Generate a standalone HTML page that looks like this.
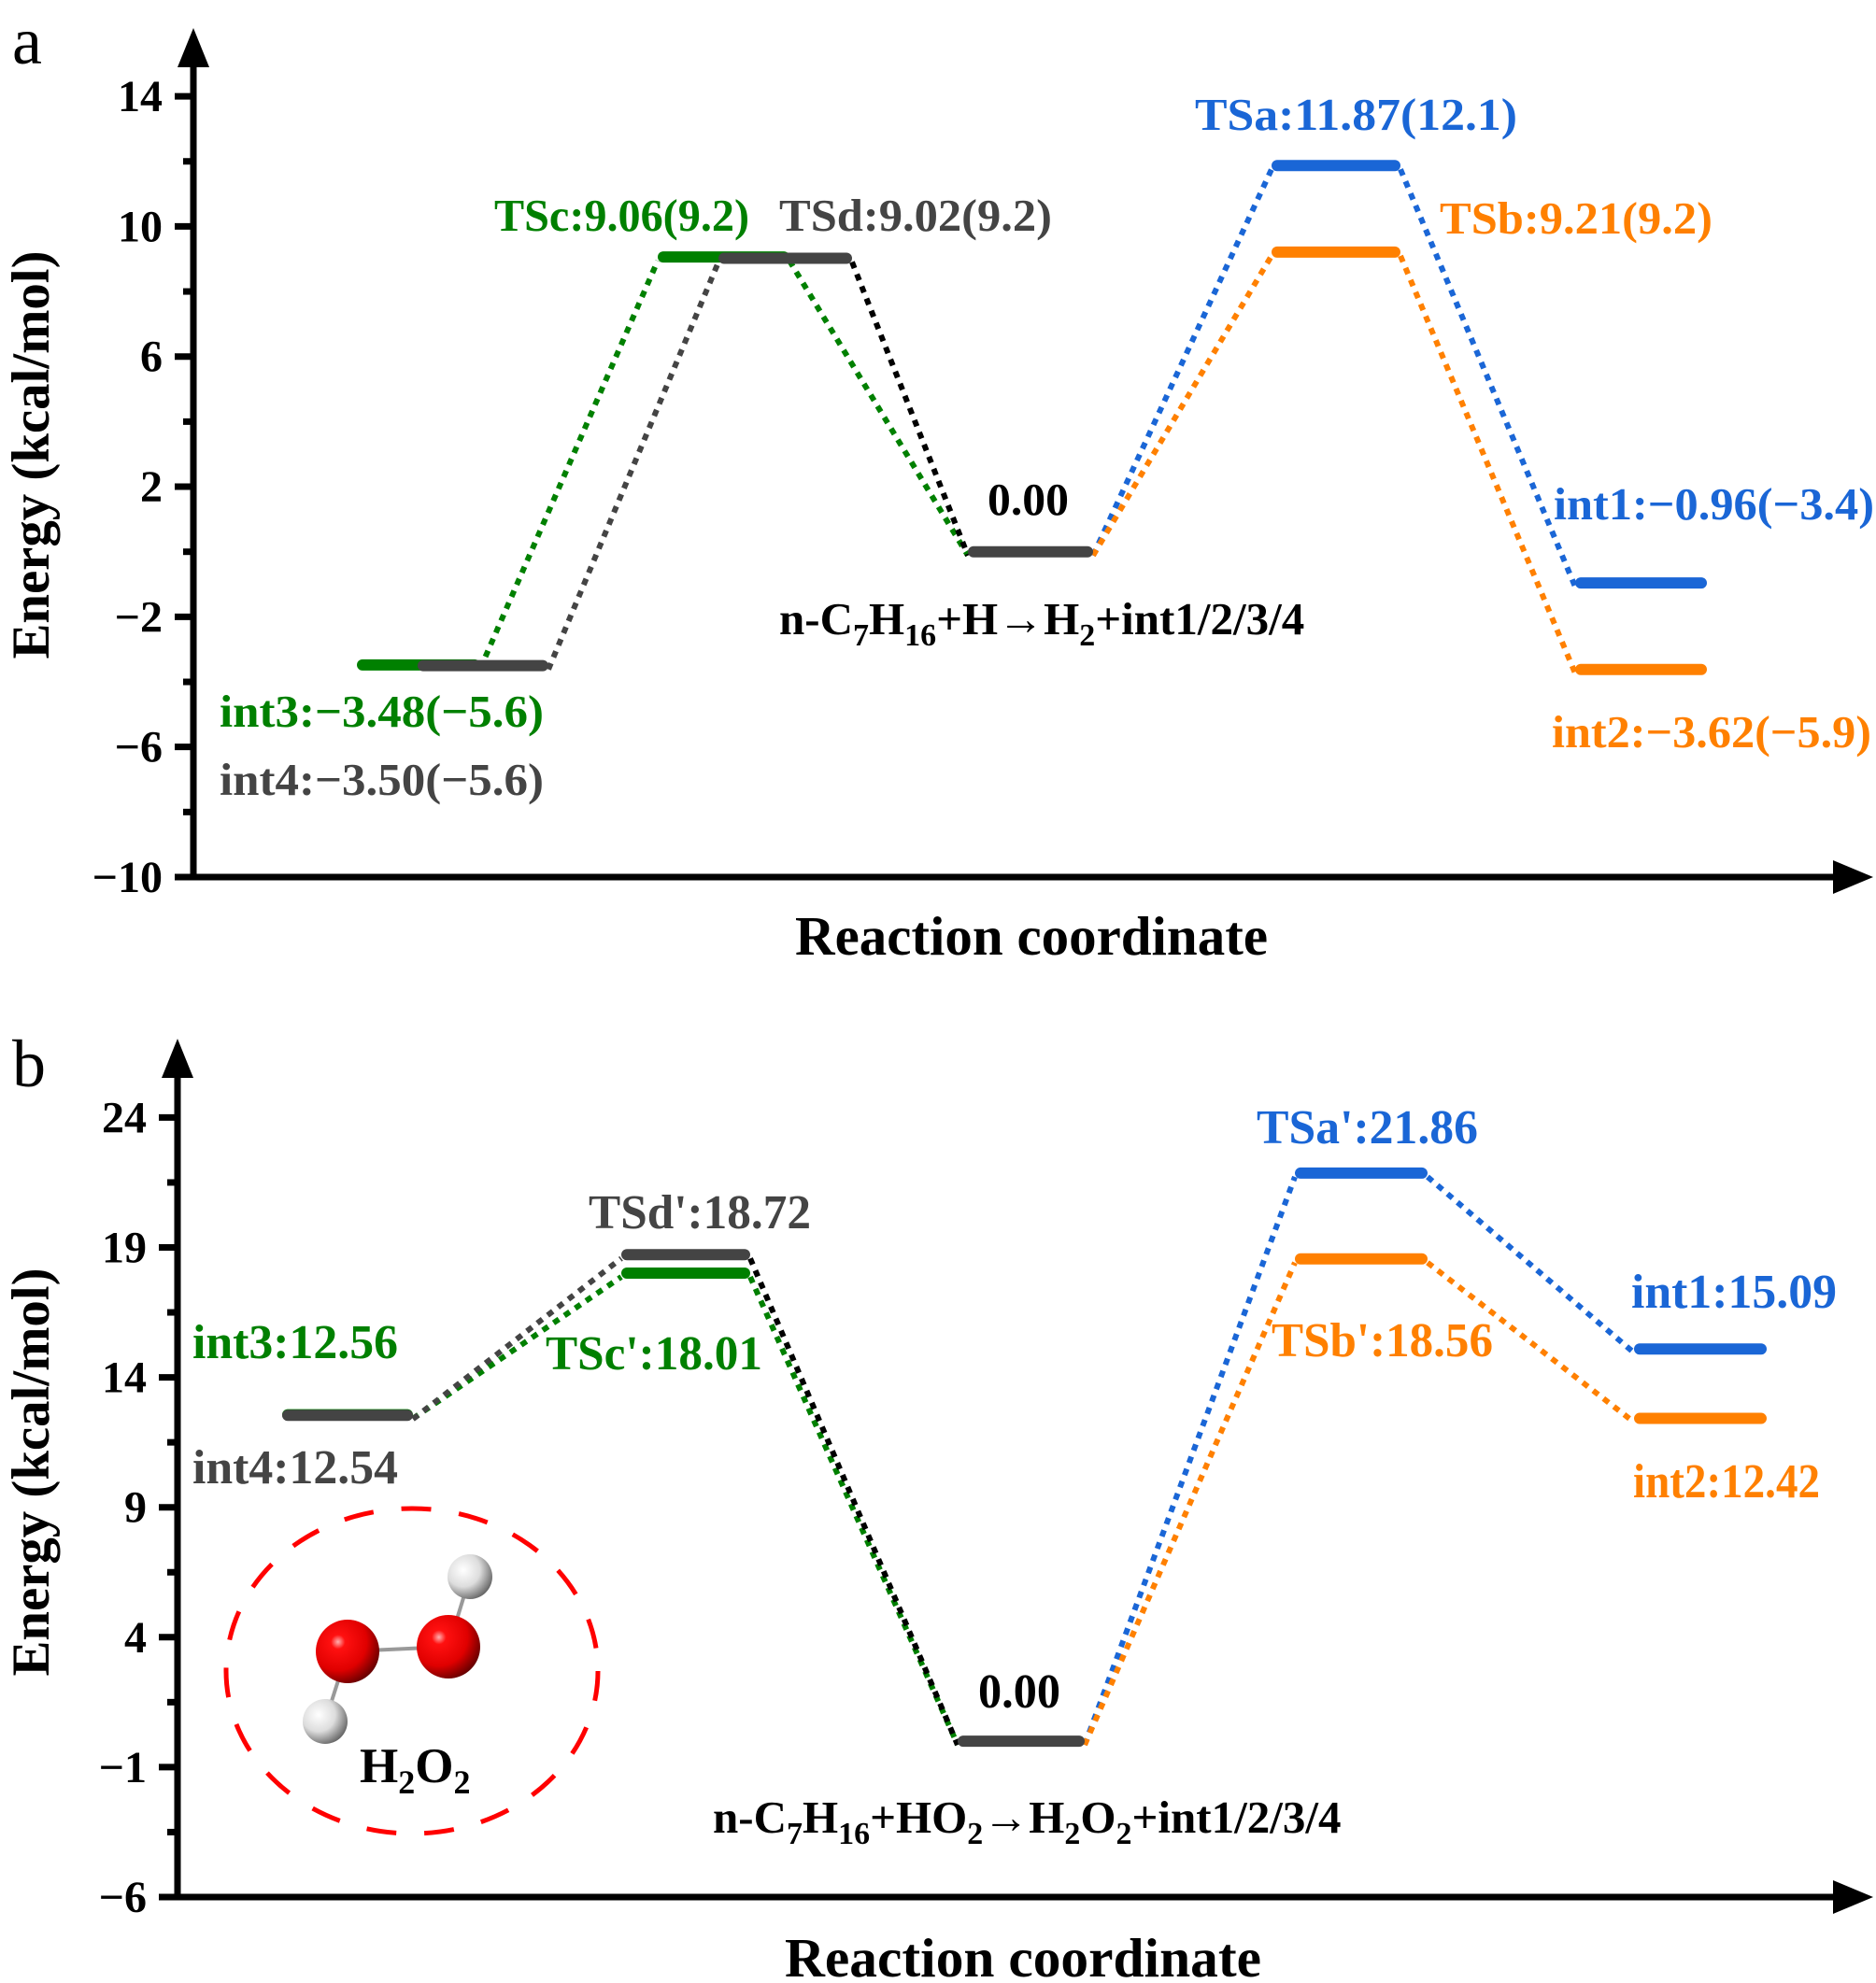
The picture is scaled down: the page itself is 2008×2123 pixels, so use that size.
<!DOCTYPE html>
<html><head><meta charset="utf-8"><style>
html,body{margin:0;padding:0;background:#fff;}
svg{display:block;font-family:"Liberation Serif",serif;font-weight:bold;}
</style></head><body>
<svg id="chart" width="2008" height="2123" viewBox="0 0 2008 2123" xmlns="http://www.w3.org/2000/svg">
<defs>
<radialGradient id="gO" cx="0.35" cy="0.35" r="0.75"><stop offset="0" stop-color="#ffb0b0"/><stop offset="0.15" stop-color="#ff1010"/><stop offset="0.6" stop-color="#e00000"/><stop offset="1" stop-color="#500000"/></radialGradient>
<radialGradient id="gH" cx="0.35" cy="0.35" r="0.75"><stop offset="0" stop-color="#ffffff"/><stop offset="0.5" stop-color="#dddddd"/><stop offset="1" stop-color="#555555"/></radialGradient>
</defs>
<g id="panelA"></g>
<g id="panelB"></g>
<g>
<ellipse cx="441" cy="1789" rx="199" ry="174" fill="none" stroke="#ff0000" stroke-width="5" stroke-dasharray="32 30"/>
<line x1="372" y1="1768" x2="480" y2="1763" stroke="#999" stroke-width="4"/>
<line x1="372" y1="1768" x2="348" y2="1843" stroke="#999" stroke-width="4"/>
<line x1="480" y1="1763" x2="503" y2="1688" stroke="#999" stroke-width="4"/>
<circle cx="372" cy="1768" r="34" fill="url(#gO)"/>
<circle cx="480" cy="1763" r="34" fill="url(#gO)"/>
<circle cx="348" cy="1843" r="24" fill="url(#gH)"/>
<circle cx="503" cy="1688" r="24" fill="url(#gH)"/>
<text x="385" y="1908" font-size="53" fill="#000">H<tspan font-size="36" dy="12">2</tspan><tspan dy="-12">O</tspan><tspan font-size="36" dy="12">2</tspan></text>
</g>
</svg>
<script>
// ---- Panel a data ----
const aNames = ["int3","int4","TSc","TSd","R","TSa","TSb","int1","int2"];
const aValues = [-3.48, -3.50, 9.06, 9.02, 0.00, 11.87, 9.21, -0.96, -3.62];
const aTicks = [14, 10, 6, 2, -2, -6, -10];
const aTickLabels = ["14","10","6","2","\u22122","\u22126","\u221210"];
// ---- Panel b data ----
const bNames = ["int3","int4","TSc","TSd","R","TSa","TSb","int1","int2"];
const bValues = [12.56, 12.54, 18.01, 18.72, 0.00, 21.86, 18.56, 15.09, 12.42];
const bTicks = [24, 19, 14, 9, 4, -1, -6];
const bTickLabels = ["24","19","14","9","4","\u22121","\u22126"];

const NS = "http://www.w3.org/2000/svg";
const COL = {g:"#008000", k:"#444444", b:"#1a66d6", o:"#ff8000", blk:"#000000"};

function mk(parent, tag, attrs){
  const el = document.createElementNS(NS, tag);
  for (const k in attrs) el.setAttribute(k, attrs[k]);
  parent.appendChild(el);
  return el;
}

function drawPanel(g, cfg){
  const y = v => cfg.y0 - (v - cfg.vmin) * cfg.ppu;
  // axes
  const ax = mk(g, "line", {x1:cfg.ax, y1:cfg.y0, x2:cfg.ax, y2:cfg.top+30, stroke:"#000","stroke-width":7});
  
  
  const ah = mk(g, "polygon", {points:`${cfg.ax-17},${cfg.top+42} ${cfg.ax+17},${cfg.top+42} ${cfg.ax},${cfg.top}`, fill:"#000"});
  
  
  const xa = mk(g, "line", {x1:cfg.ax-3, y1:cfg.y0, x2:1970, y2:cfg.y0, stroke:"#000","stroke-width":7});
  
  
  const xh = mk(g, "polygon", {points:`1962,${cfg.y0-18} 1962,${cfg.y0+18} 2005,${cfg.y0}`, fill:"#000"});
  
  
  // ticks
  cfg.ticks.forEach((t,i)=>{
    const tk = mk(g, "line", {x1:cfg.ax-20, y1:y(t), x2:cfg.ax, y2:y(t), stroke:"#000","stroke-width":7});
    
    
    const lb = mk(g, "text", {x:cfg.ax-33, y:y(t)+16, "text-anchor":"end","font-size":48, fill:"#000"});
    lb.textContent = cfg.tickLabels[i];
    
    
    if (i < cfg.ticks.length-1){
      const m = (t + cfg.ticks[i+1]) / 2;
      const mt = mk(g, "line", {x1:cfg.ax-11, y1:y(m), x2:cfg.ax, y2:y(m), stroke:"#000","stroke-width":7});
      
      
    }
  });
  // connectors
  cfg.links.forEach(l=>{
    const a = cfg.bars[l[0]], b = cfg.bars[l[1]];
    const va = cfg.values[l[0]], vb = cfg.values[l[1]];
    const ln = mk(g, "line", {x1:a[1], y1:y(va)+4, x2:b[0], y2:y(vb)+4, stroke:COL[l[2]], "stroke-width":6, "stroke-dasharray":"7 7"});
    
    
  });
  // bars
  cfg.order.forEach(i=>{
    const b = cfg.bars[i];
    const bar = mk(g, "line", {x1:b[0]+6, y1:y(cfg.values[i]), x2:b[1]-6, y2:y(cfg.values[i]), stroke:COL[b[2]], "stroke-width":12, "stroke-linecap":"round"});
    
    
  });
}

function txt(g, x, yy, s, color, size, len, name){
  const t = mk(g, "text", {x:x, y:yy, "font-size":size, fill:color});
  if (len) { t.setAttribute("textLength", len); t.setAttribute("lengthAdjust","spacingAndGlyphs"); }
  t.innerHTML = s;
  
  
  return t;
}

// Panel a
const gA = document.getElementById("panelA");
drawPanel(gA, {
  ax:207, y0:939, top:30, vmin:-10, ppu:34.83,
  ticks:aTicks, tickLabels:aTickLabels, names:aNames, values:aValues,
  bars:[[382,514,"g"],[447,587,"k"],[704,845,"g"],[769,912,"k"],[1036,1170,"k"],[1361,1499,"b"],[1361,1499,"o"],[1686,1827,"b"],[1686,1827,"o"]],
  order:[0,1,2,3,4,5,6,7,8],
  links:[[0,2,"g"],[1,3,"k"],[2,4,"g"],[3,4,"blk"],[4,5,"b"],[4,6,"o"],[5,7,"b"],[6,8,"o"]]
});
txt(gA, 13, 68, "a", "#000", 72, null, "panel-a-letter").setAttribute("font-weight","normal");
txt(gA, 529, 247, "TSc:9.06(9.2)", COL.g, 49, 273, "label-tsc");
txt(gA, 834, 247, "TSd:9.02(9.2)", COL.k, 49, 292, "label-tsd");
txt(gA, 235, 778, "int3:\u22123.48(\u22125.6)", COL.g, 49, 347, "label-int3");
txt(gA, 235, 851, "int4:\u22123.50(\u22125.6)", COL.k, 49, 347, "label-int4");
txt(gA, 1057, 551, "0.00", "#000", 49, 87, "label-reactant");
txt(gA, 834, 679, 'n-C<tspan font-size="34" dy="12">7</tspan><tspan dy="-12">H</tspan><tspan font-size="34" dy="12">16</tspan><tspan dy="-12">+H\u2192H</tspan><tspan font-size="34" dy="12">2</tspan><tspan dy="-12">+int1/2/3/4</tspan>', "#000", 49, null, "reaction-equation-a");
txt(gA, 1279, 139, "TSa:11.87(12.1)", COL.b, 49, 345, "label-tsa");
txt(gA, 1541, 250, "TSb:9.21(9.2)", COL.o, 49, 292, "label-tsb");
txt(gA, 1663, 556, "int1:\u22120.96(\u22123.4)", COL.b, 49, 343, "label-int1");
txt(gA, 1661, 800, "int2:\u22123.62(\u22125.9)", COL.o, 49, 342, "label-int2");
txt(gA, 851, 1022, "Reaction coordinate", "#000", 59, 506, "x-axis-title-a");
const ya = txt(gA, 0, 0, "Energy (kcal/mol)", "#000", 57, 437, "y-axis-title-a");
ya.setAttribute("text-anchor","middle");
ya.setAttribute("transform","translate(52,487) rotate(-90)");

// Panel b
const gB = document.getElementById("panelB");
drawPanel(gB, {
  ax:190, y0:2031, top:1112, vmin:-6, ppu:27.82,
  ticks:bTicks, tickLabels:bTickLabels, names:bNames, values:bValues,
  bars:[[302,442,"g"],[302,442,"k"],[665,803,"g"],[665,803,"k"],[1025,1161,"k"],[1386,1528,"b"],[1386,1528,"o"],[1749,1891,"b"],[1749,1891,"o"]],
  order:[0,1,2,3,4,5,6,7,8],
  links:[[0,2,"g"],[1,3,"k"],[2,4,"g"],[3,4,"blk"],[4,5,"b"],[4,6,"o"],[5,7,"b"],[6,8,"o"]]
});
txt(gB, 13, 1163, "b", "#000", 72, null, "panel-b-letter").setAttribute("font-weight","normal");
txt(gB, 206, 1454, "int3:12.56", COL.g, 52, 220, "label-int3-b");
txt(gB, 206, 1588, "int4:12.54", COL.k, 52, 220, "label-int4-b");
txt(gB, 630, 1315, "TSd':18.72", COL.k, 52, 238, "label-tsd-b");
txt(gB, 584, 1466, "TSc':18.01", COL.g, 52, 232, "label-tsc-b");
txt(gB, 1047, 1828, "0.00", "#000", 52, 88, "label-reactant-b");
txt(gB, 763, 1962, 'n-C<tspan font-size="34" dy="12">7</tspan><tspan dy="-12">H</tspan><tspan font-size="34" dy="12">16</tspan><tspan dy="-12">+HO</tspan><tspan font-size="34" dy="12">2</tspan><tspan dy="-12">\u2192H</tspan><tspan font-size="34" dy="12">2</tspan><tspan dy="-12">O</tspan><tspan font-size="34" dy="12">2</tspan><tspan dy="-12">+int1/2/3/4</tspan>', "#000", 49, null, "reaction-equation-b");
txt(gB, 1345, 1224, "TSa':21.86", COL.b, 52, 237, "label-tsa-b");
txt(gB, 1361, 1452, "TSb':18.56", COL.o, 52, 237, "label-tsb-b");
txt(gB, 1746, 1400, "int1:15.09", COL.b, 52, 220, "label-int1-b");
txt(gB, 1748, 1603, "int2:12.42", COL.o, 52, 200, "label-int2-b");
txt(gB, 840, 2116, "Reaction coordinate", "#000", 59, 510, "x-axis-title-b");
const yb = txt(gB, 0, 0, "Energy (kcal/mol)", "#000", 57, 437, "y-axis-title-b");
yb.setAttribute("text-anchor","middle");
yb.setAttribute("transform","translate(52,1576) rotate(-90)");
</script>
</body></html>
